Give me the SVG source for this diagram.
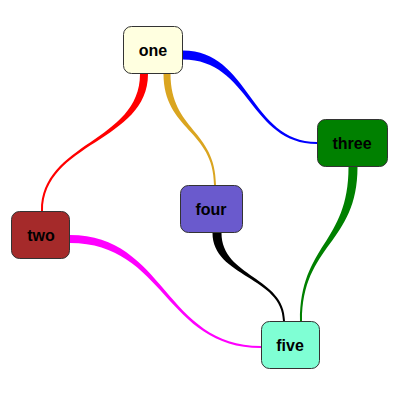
<svg xmlns="http://www.w3.org/2000/svg" width="400" height="400" viewBox="0 0 400 400">
<style>
.node rect{stroke:#333;stroke-width:1}
.node text{font-family:"Liberation Sans",Arial,sans-serif;font-size:16px;font-weight:bold;fill:#000;text-anchor:middle;dominant-baseline:central}
</style>
<rect width="400" height="400" fill="#fff"/>
<g id="connectors">
<path d="M140,74 C140,142 41,142 41,211 L43,211 C43,142 148,142 148,74 Z" fill="#ff0000"/>
<path d="M163.5,74 C163.5,130 214,130 214,185 L216,185 C216,130 170.5,130 170.5,74 Z" fill="#daa520"/>
<path d="M183,50.5 C250,50.5 250,142 317,142 L317,144 C250,144 250,59.5 183,59.5 Z" fill="#0000ff"/>
<path d="M70,235 C165,235 165,346 261,346 L261,348 C165,348 165,243 70,243 Z" fill="#ff00ff"/>
<path d="M212.5,233 C212.5,277 283,277 283,321 L285,321 C285,277 221.5,277 221.5,233 Z" fill="#000000"/>
<path d="M348.5,167 C348.5,244 300,244 300,321 L302,321 C302,244 357.5,244 357.5,167 Z" fill="#008000"/>
</g>
<g id="one" class="node"><rect x="123.5" y="26.5" width="59" height="47" rx="8" fill="#ffffe0"/><text x="153" y="50">one</text></g>
<g id="two" class="node"><rect x="11.5" y="211.5" width="58" height="47" rx="8" fill="#a52a2a"/><text x="41" y="235">two</text></g>
<g id="three" class="node"><rect x="317.5" y="119.5" width="70" height="47" rx="8" fill="#008000"/><text x="352" y="143">three</text></g>
<g id="four" class="node"><rect x="180.5" y="185.5" width="62" height="47" rx="8" fill="#6a5acd"/><text x="211" y="209">four</text></g>
<g id="five" class="node"><rect x="261.5" y="321.5" width="58" height="47" rx="8" fill="#7fffd4"/><text x="290" y="345">five</text></g>
</svg>
